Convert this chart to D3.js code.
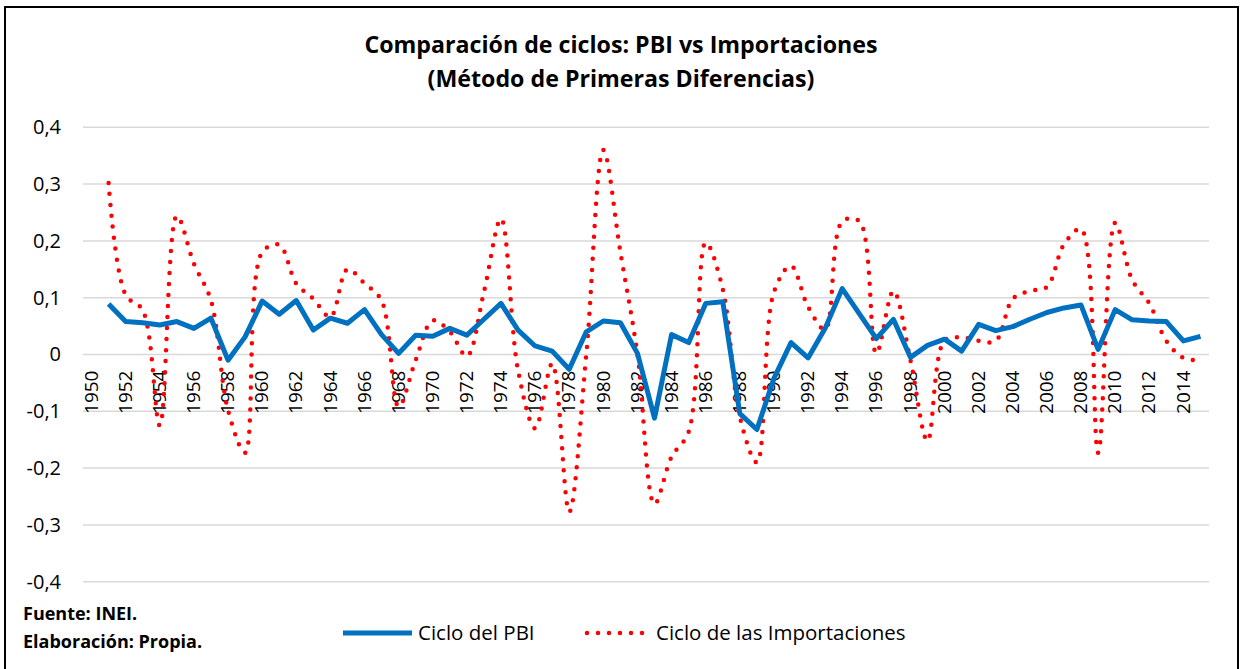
<!DOCTYPE html>
<html>
<head>
<meta charset="utf-8">
<script src="https://cdn.jsdelivr.net/npm/d3@7"></script>
<style>
  body { margin: 0; background: #fff; }
  text { font-family: "Open Sans", Lato, sans-serif; fill: #000; }
</style>
</head>
<body>
<svg id="chart"></svg>
<script>
const width = 1241, height = 669;

// categories (1950 has no value: first differences start in 1951)
const years = d3.range(1950, 2016);
const tickYears = years.filter(y => (y - 1950) % 2 === 0);
const yTicks = [-0.4, -0.3, -0.2, -0.1, 0, 0.1, 0.2, 0.3, 0.4];

const pbiCycle = [
  0.089, 0.058, 0.056, 0.052, 0.058, 0.046, 0.064, -0.010, 0.031, 0.094,
  0.071, 0.095, 0.043, 0.064, 0.055, 0.079, 0.035, 0.002, 0.034, 0.032,
  0.046, 0.034, 0.062, 0.090, 0.043, 0.015, 0.006, -0.026, 0.040, 0.059,
  0.056, 0.002, -0.112, 0.035, 0.021, 0.090, 0.093, -0.104, -0.132, -0.042,
  0.021, -0.006, 0.046, 0.116, 0.072, 0.028, 0.062, -0.005, 0.016, 0.027,
  0.006, 0.053, 0.042, 0.049, 0.062, 0.074, 0.082, 0.087, 0.009, 0.079,
  0.061, 0.059, 0.058, 0.024, 0.032
];

const importCycle = [
  0.302, 0.105, 0.078, -0.125, 0.244, 0.160, 0.095, -0.098, -0.173, 0.180,
  0.193, 0.125, 0.098, 0.066, 0.150, 0.125, 0.095, -0.092, -0.010, 0.060,
  0.040, -0.003, 0.110, 0.239, -0.028, -0.130, -0.016, -0.277, 0.000, 0.360,
  0.180, 0.000, -0.263, -0.180, -0.136, 0.197, 0.115, -0.110, -0.190, 0.110,
  0.156, 0.084, 0.044, 0.234, 0.235, 0.002, 0.112, -0.010, -0.152, 0.025,
  0.030, 0.024, 0.024, 0.098, 0.112, 0.119, 0.194, 0.221, -0.173, 0.232,
  0.131, 0.090, 0.024, -0.006, -0.010
];

const dataYears = years.slice(1);

const svg = d3.select("#chart")
              .attr("width", width)
              .attr("height", height);

// outer frame
svg.append("rect")
   .attr("x", 5).attr("y", 7)
   .attr("width", 1233).attr("height", 680)
   .attr("fill", "#fff")
   .attr("stroke", "#000")
   .attr("stroke-width", 2);

const plot = { left: 83, right: 1209, top: 127.3, bottom: 581.7 };

const x = d3.scalePoint()
            .domain(years)
            .range([plot.left, plot.right])
            .padding(0.5);

const y = d3.scaleLinear()
            .domain([-0.4, 0.4])
            .range([plot.bottom, plot.top]);

const fmt = d3.formatLocale({ decimal: ",", thousands: ".", grouping: [3], currency: ["", ""], minus: "-" }).format(".1f");
const tickFmt = d => d === 0 ? "0" : fmt(d);

// gridlines
svg.append("g")
   .selectAll("line")
   .data(yTicks)
   .join("line")
   .attr("x1", plot.left).attr("x2", plot.right)
   .attr("y1", d => y(d)).attr("y2", d => y(d))
   .attr("stroke", "#d9d9d9")
   .attr("stroke-width", 1.5);

// y axis labels
const yAxis = svg.append("g")
   .attr("transform", `translate(${plot.left - 22},0)`)
   .call(d3.axisLeft(y).tickValues(yTicks).tickFormat(tickFmt).tickSize(0).tickPadding(0));
yAxis.select(".domain").remove();
yAxis.selectAll("text")
     .style("font-size", "20px")
     .style("font-family", "'Open Sans', sans-serif")
     .attr("fill", "#000");

// x axis labels (rotated), hanging just below the zero line
const xAxis = svg.append("g")
   .attr("transform", `translate(0,${y(0)})`)
   .call(d3.axisBottom(x).tickValues(tickYears).tickSize(0).tickPadding(0));
xAxis.select(".domain").remove();
xAxis.selectAll("text")
     .style("font-size", "19px")
     .style("font-family", "'Open Sans', sans-serif")
     .attr("fill", "#000")
     .attr("text-anchor", "end")
     .attr("dy", "0.35em")
     .attr("transform", "translate(-1,16) rotate(-90)")
     .attr("x", 0).attr("y", 0);

// series
const pbiLine = d3.line()
                  .x((d, i) => x(dataYears[i]))
                  .y(d => y(d));

const impLine = d3.line()
                  .x((d, i) => x(dataYears[i]))
                  .y(d => y(d))
                  .curve(d3.curveCatmullRom.alpha(0.5));

svg.append("path")
   .datum(importCycle)
   .attr("d", impLine)
   .attr("fill", "none")
   .attr("stroke", "#ff0000")
   .attr("stroke-width", 4.5)
   .attr("stroke-linecap", "round")
   .attr("stroke-dasharray", "0 11");

svg.append("path")
   .datum(pbiCycle)
   .attr("d", pbiLine)
   .attr("fill", "none")
   .attr("stroke", "#0070c0")
   .attr("stroke-width", 5)
   .attr("stroke-linejoin", "round");

// title
const title = svg.append("text")
   .attr("x", 621)
   .attr("y", 53)
   .attr("text-anchor", "middle")
   .style("font-size", "23.2px")
   .style("font-weight", "bold");
title.append("tspan").attr("x", 621).text("Comparación de ciclos: PBI vs Importaciones");
title.append("tspan").attr("x", 621).attr("dy", 34).text("(Método de Primeras Diferencias)");

// source notes
svg.append("text")
   .attr("x", 23).attr("y", 620)
   .style("font-size", "18px").style("font-weight", "bold")
   .text("Fuente: INEI.");
svg.append("text")
   .attr("x", 23).attr("y", 648)
   .style("font-size", "18px").style("font-weight", "bold")
   .text("Elaboración: Propia.");

// legend
const legendItems = [
  { name: "Ciclo del PBI", x1: 343, x2: 412, color: "#0070c0", dash: null, w: 5 },
  { name: "Ciclo de las Importaciones", x1: 587, x2: 650, color: "#ff0000", dash: "0 11", w: 4.5 }
];
const legend = svg.append("g")
                  .selectAll("g")
                  .data(legendItems)
                  .join("g");
legend.append("line")
      .attr("x1", d => d.x1).attr("x2", d => d.x2)
      .attr("y1", 633).attr("y2", 633)
      .attr("stroke", d => d.color)
      .attr("stroke-width", d => d.w)
      .attr("stroke-linecap", d => d.dash ? "round" : "butt")
      .attr("stroke-dasharray", d => d.dash);
legend.append("text")
      .attr("x", d => d.x2 + 6)
      .attr("y", 640)
      .style("font-size", "20.5px")
      .text(d => d.name);
</script>
</body>
</html>
